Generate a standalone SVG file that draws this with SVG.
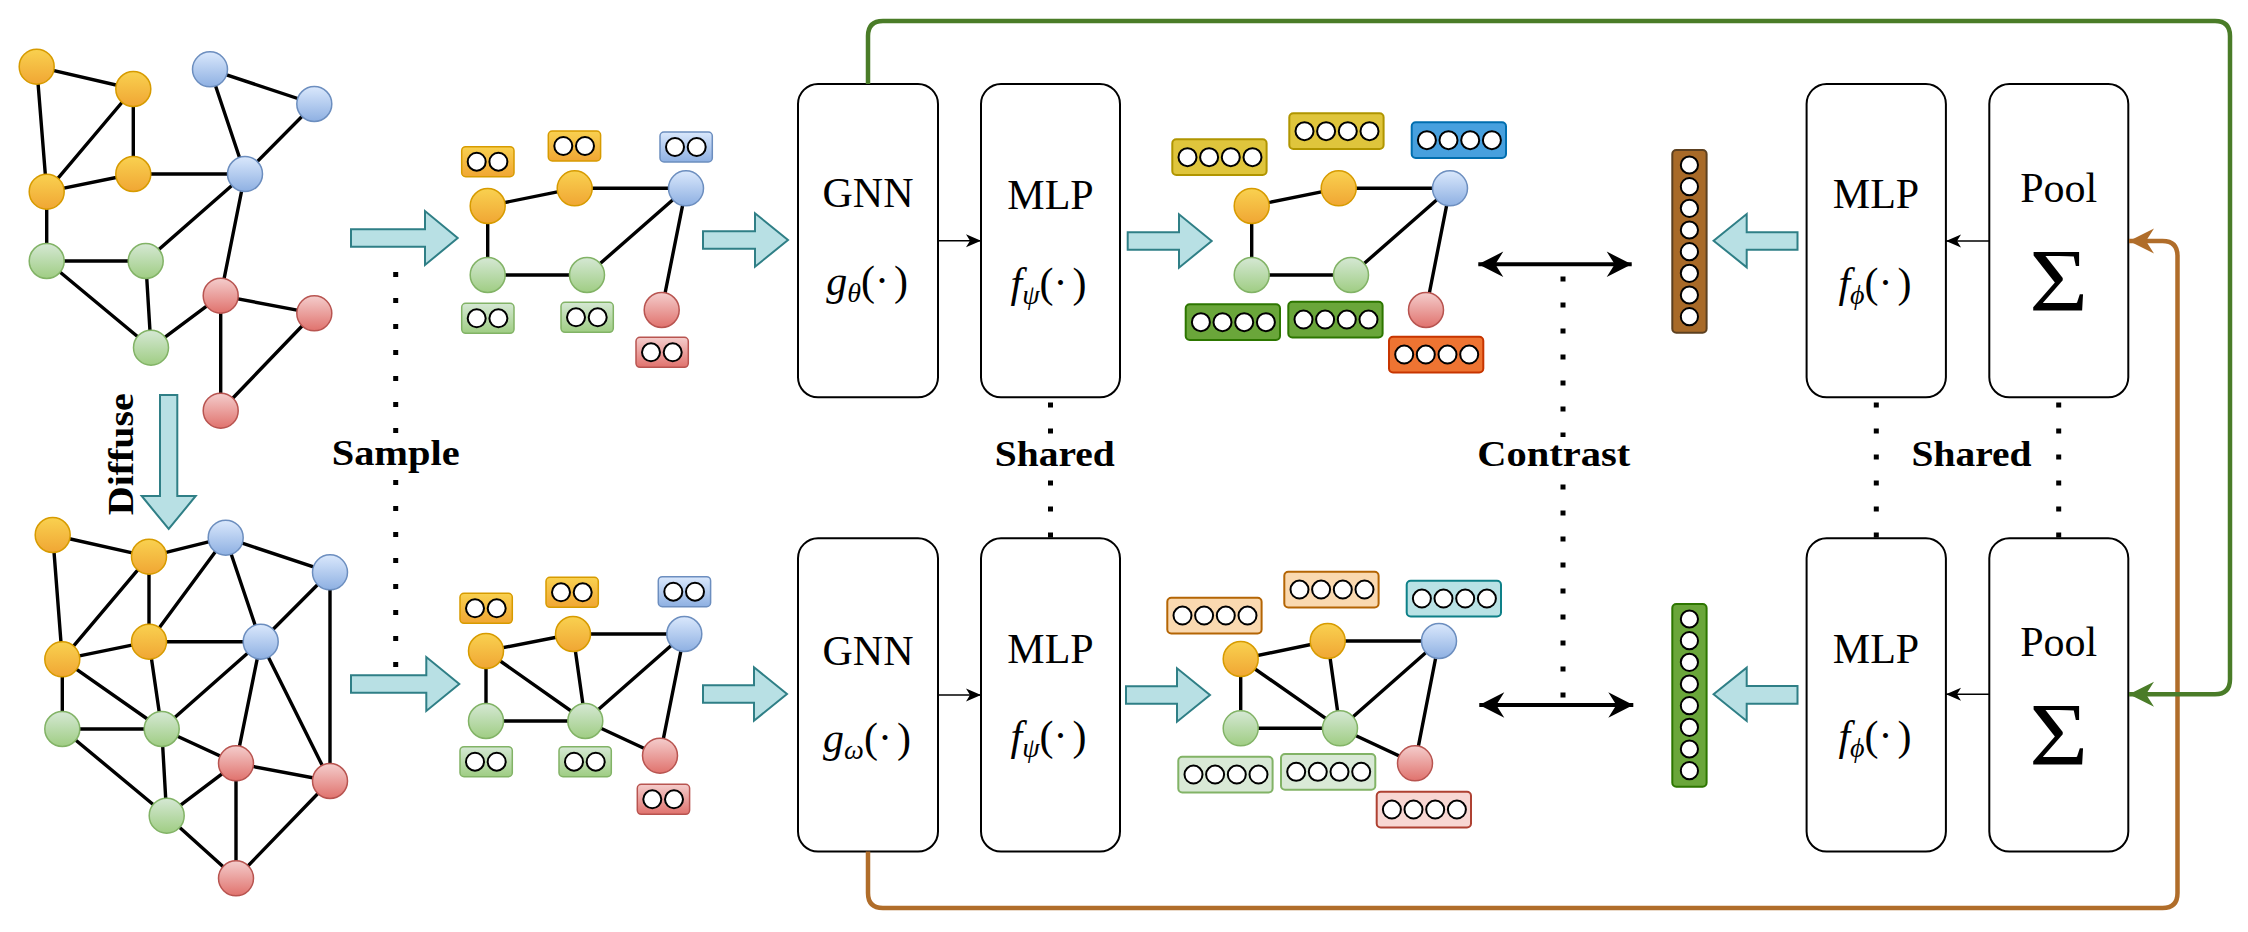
<svg xmlns="http://www.w3.org/2000/svg" xmlns:xlink="http://www.w3.org/1999/xlink" width="2248" height="932" viewBox="0 0 2248 932">
<defs>
<linearGradient id="gO" x1="0" y1="0" x2="0" y2="1"><stop offset="0" stop-color="#f9d150"/><stop offset="1" stop-color="#f0a634"/></linearGradient>
<linearGradient id="gB" x1="0" y1="0" x2="0" y2="1"><stop offset="0" stop-color="#dae8fc"/><stop offset="1" stop-color="#8eb0e2"/></linearGradient>
<linearGradient id="gG" x1="0" y1="0" x2="0" y2="1"><stop offset="0" stop-color="#d5e8d4"/><stop offset="1" stop-color="#9fcd83"/></linearGradient>
<linearGradient id="gR" x1="0" y1="0" x2="0" y2="1"><stop offset="0" stop-color="#f4cdcc"/><stop offset="1" stop-color="#e0726d"/></linearGradient>
<marker id="mGreen" viewBox="-26 -14 28 28" markerWidth="28" markerHeight="28" refX="0" refY="0" orient="auto" markerUnits="userSpaceOnUse"><path d="M0,0 L-25,-12.5 L-17,0 L-25,12.5 Z" fill="#4a7c28"/></marker>
<marker id="mBrown" viewBox="-26 -14 28 28" markerWidth="28" markerHeight="28" refX="0" refY="0" orient="auto" markerUnits="userSpaceOnUse"><path d="M0,0 L-25,-12.5 L-17,0 L-25,12.5 Z" fill="#b06d2a"/></marker>
<marker id="mBig" viewBox="-26 -14 28 28" markerWidth="28" markerHeight="28" refX="0" refY="0" orient="auto-start-reverse" markerUnits="userSpaceOnUse"><path d="M0,0 L-25,-12.7 L-17,0 L-25,12.7 Z" fill="#000"/></marker>
<marker id="mSmall" viewBox="-16 -8 17 16" markerWidth="17" markerHeight="16" refX="0" refY="0" orient="auto" markerUnits="userSpaceOnUse"><path d="M0,0 L-15,-6.5 L-11,0 L-15,6.5 Z" fill="#000"/></marker>
<g id="c2"><circle cx="15" cy="0" r="9" fill="#fff" stroke="#000" stroke-width="2"/><circle cx="36.7" cy="0" r="9" fill="#fff" stroke="#000" stroke-width="2"/></g>
<g id="c4"><circle cx="15.2" cy="0" r="9" fill="#fff" stroke="#000" stroke-width="2"/><circle cx="36.8" cy="0" r="9" fill="#fff" stroke="#000" stroke-width="2"/><circle cx="58.5" cy="0" r="9" fill="#fff" stroke="#000" stroke-width="2"/><circle cx="80.2" cy="0" r="9" fill="#fff" stroke="#000" stroke-width="2"/></g>
<g id="c8"><circle cx="0" cy="0" r="8.6" fill="#fff" stroke="#000" stroke-width="2"/><circle cx="0" cy="21.67" r="8.6" fill="#fff" stroke="#000" stroke-width="2"/><circle cx="0" cy="43.33" r="8.6" fill="#fff" stroke="#000" stroke-width="2"/><circle cx="0" cy="65" r="8.6" fill="#fff" stroke="#000" stroke-width="2"/><circle cx="0" cy="86.67" r="8.6" fill="#fff" stroke="#000" stroke-width="2"/><circle cx="0" cy="108.33" r="8.6" fill="#fff" stroke="#000" stroke-width="2"/><circle cx="0" cy="130" r="8.6" fill="#fff" stroke="#000" stroke-width="2"/><circle cx="0" cy="151.67" r="8.6" fill="#fff" stroke="#000" stroke-width="2"/></g>
</defs>
<style>
.e{stroke:#000;stroke-width:3.4;fill:none}
.nO{fill:url(#gO);stroke:#d79b00;stroke-width:1.5}
.nB{fill:url(#gB);stroke:#6c8ebf;stroke-width:1.5}
.nG{fill:url(#gG);stroke:#82b366;stroke-width:1.5}
.nR{fill:url(#gR);stroke:#b85450;stroke-width:1.5}
.fO{fill:url(#gO);stroke:#d79b00;stroke-width:1.5}
.fB{fill:url(#gB);stroke:#6c8ebf;stroke-width:1.5}
.fG{fill:url(#gG);stroke:#82b366;stroke-width:1.5}
.fR{fill:url(#gR);stroke:#b85450;stroke-width:1.5}
.kY{fill:#dfc53c;stroke:#b09500;stroke-width:2}
.kB{fill:#47a0de;stroke:#006eaf;stroke-width:2}
.kG{fill:#6aa63a;stroke:#2d7600;stroke-width:2}
.kO{fill:#ee7432;stroke:#c73500;stroke-width:2}
.lO{fill:#fad9b0;stroke:#b46504;stroke-width:2}
.lC{fill:#b9e2e5;stroke:#0e8088;stroke-width:2}
.lG{fill:#d9e9d6;stroke:#82b366;stroke-width:2}
.lR{fill:#f8d7d3;stroke:#ae4132;stroke-width:2}
.box{fill:#fff;stroke:#000;stroke-width:2}
.cy{fill:#b8e0e4;stroke:#2f7f86;stroke-width:2}
.lbl{font-family:"Liberation Serif",serif;font-weight:bold;font-size:36px;text-anchor:middle;fill:#000}
.t{font-family:"Liberation Serif",serif;font-size:42px;text-anchor:middle;fill:#000}
.it{font-style:italic}
.sub{font-style:italic;font-size:28px}
.sig{font-family:"Liberation Serif",serif;font-size:88px;text-anchor:middle;fill:#000}
.dot{stroke:#000;stroke-width:5;stroke-dasharray:5 21;fill:none}
</style>
<rect x="0" y="0" width="2248" height="932" fill="#fff"/>

<g id="graph-original">
<path class="e" d="M36.7,66.7L133.3,89 M36.7,66.7L46.7,191.7 M133.3,89L46.7,191.7 M133.3,89L133.3,174 M46.7,191.7L133.3,174 M133.3,174L245,174 M210,69.3L245,174 M210,69.3L314.3,104 M314.3,104L245,174 M46.7,191.7L46.7,261 M46.7,261L145.7,261 M145.7,261L245,174 M46.7,261L151,347.7 M145.7,261L151,347.7 M151,347.7L220.7,295.7 M245,174L220.7,295.7 M220.7,295.7L314.3,313.3 M220.7,295.7L220.7,410.7 M314.3,313.3L220.7,410.7"/>
<circle class="nO" cx="36.7" cy="66.7" r="17.5"/><circle class="nO" cx="133.3" cy="89" r="17.5"/><circle class="nO" cx="46.7" cy="191.7" r="17.5"/><circle class="nO" cx="133.3" cy="174" r="17.5"/>
<circle class="nB" cx="210" cy="69.3" r="17.5"/><circle class="nB" cx="314.3" cy="104" r="17.5"/><circle class="nB" cx="245" cy="174" r="17.5"/>
<circle class="nG" cx="46.7" cy="261" r="17.5"/><circle class="nG" cx="145.7" cy="261" r="17.5"/><circle class="nG" cx="151" cy="347.7" r="17.5"/>
<circle class="nR" cx="220.7" cy="295.7" r="17.5"/><circle class="nR" cx="314.3" cy="313.3" r="17.5"/><circle class="nR" cx="220.7" cy="410.7" r="17.5"/>
</g>

<g id="graph-diffused">
<path class="e" d="M52.7,535L149,556.7 M52.7,535L62.3,659.3 M149,556.7L225.7,537.7 M149,556.7L62.3,659.3 M149,556.7L149,641.7 M225.7,537.7L330,572.3 M225.7,537.7L149,641.7 M225.7,537.7L260.7,641.7 M330,572.3L260.7,641.7 M330,572.3L330,781 M62.3,659.3L149,641.7 M149,641.7L260.7,641.7 M62.3,659.3L62.3,729 M62.3,659.3L161.7,729 M149,641.7L161.7,729 M260.7,641.7L161.7,729 M260.7,641.7L236,763.3 M260.7,641.7L330,781 M62.3,729L161.7,729 M62.3,729L166.7,815.7 M161.7,729L166.7,815.7 M161.7,729L236,763.3 M236,763.3L330,781 M166.7,815.7L236,763.3 M236,763.3L236,878.3 M166.7,815.7L236,878.3 M330,781L236,878.3"/>
<circle class="nO" cx="52.7" cy="535" r="17.5"/><circle class="nO" cx="149" cy="556.7" r="17.5"/><circle class="nO" cx="62.3" cy="659.3" r="17.5"/><circle class="nO" cx="149" cy="641.7" r="17.5"/>
<circle class="nB" cx="225.7" cy="537.7" r="17.5"/><circle class="nB" cx="330" cy="572.3" r="17.5"/><circle class="nB" cx="260.7" cy="641.7" r="17.5"/>
<circle class="nG" cx="62.3" cy="729" r="17.5"/><circle class="nG" cx="161.7" cy="729" r="17.5"/><circle class="nG" cx="166.7" cy="815.7" r="17.5"/>
<circle class="nR" cx="236" cy="763.3" r="17.5"/><circle class="nR" cx="330" cy="781" r="17.5"/><circle class="nR" cx="236" cy="878.3" r="17.5"/>
</g>

<g id="graph-sample-top">
<path class="e" d="M487.7,206L574.7,188.3 M574.7,188.3L686,188.3 M487.7,206L487.7,275 M487.7,275L587,275 M587,275L686,188.3 M686,188.3L661.7,310"/>
<circle class="nO" cx="487.7" cy="206" r="17.5"/><circle class="nO" cx="574.7" cy="188.3" r="17.5"/><circle class="nB" cx="686" cy="188.3" r="17.5"/>
<circle class="nG" cx="487.7" cy="275" r="17.5"/><circle class="nG" cx="587" cy="275" r="17.5"/><circle class="nR" cx="661.7" cy="310" r="17.5"/>
<rect class="fO" x="461.7" y="146.7" width="52.3" height="30" rx="4"/><use href="#c2" x="461.7" y="161.7"/>
<rect class="fO" x="548.3" y="131" width="52.3" height="30" rx="4"/><use href="#c2" x="548.3" y="146"/>
<rect class="fB" x="660" y="132" width="52.3" height="30" rx="4"/><use href="#c2" x="660" y="147"/>
<rect class="fG" x="461.7" y="303.3" width="52.3" height="30" rx="4"/><use href="#c2" x="461.7" y="318.3"/>
<rect class="fG" x="561" y="302.3" width="52.3" height="30" rx="4"/><use href="#c2" x="561" y="317.3"/>
<rect class="fR" x="636" y="337.3" width="52.3" height="30" rx="4"/><use href="#c2" x="636" y="352.3"/>
</g>

<g id="graph-sample-bottom">
<path class="e" d="M486,651L573,634 M573,634L684.3,634 M486,651L486,721 M486,651L585.3,721 M573,634L585.3,721 M486,721L585.3,721 M585.3,721L684.3,634 M585.3,721L660,755.7 M684.3,634L660,755.7"/>
<circle class="nO" cx="486" cy="651" r="17.5"/><circle class="nO" cx="573" cy="634" r="17.5"/><circle class="nB" cx="684.3" cy="634" r="17.5"/>
<circle class="nG" cx="486" cy="721" r="17.5"/><circle class="nG" cx="585.3" cy="721" r="17.5"/><circle class="nR" cx="660" cy="755.7" r="17.5"/>
<rect class="fO" x="460" y="593.3" width="52.3" height="30" rx="4"/><use href="#c2" x="460" y="608.3"/>
<rect class="fO" x="546" y="577.3" width="52.3" height="30" rx="4"/><use href="#c2" x="546" y="592.3"/>
<rect class="fB" x="658.3" y="576.7" width="52.3" height="30" rx="4"/><use href="#c2" x="658.3" y="591.7"/>
<rect class="fG" x="460" y="746.7" width="52.3" height="30" rx="4"/><use href="#c2" x="460" y="761.7"/>
<rect class="fG" x="559" y="746.7" width="52.3" height="30" rx="4"/><use href="#c2" x="559" y="761.7"/>
<rect class="fR" x="637.3" y="784.3" width="52.3" height="30" rx="4"/><use href="#c2" x="637.3" y="799.3"/>
</g>

<g id="graph-embed-top">
<path class="e" d="M1251.7,206L1338.7,188.3 M1338.7,188.3L1450,188.3 M1251.7,206L1251.7,275 M1251.7,275L1351,275 M1351,275L1450,188.3 M1450,188.3L1426,310"/>
<circle class="nO" cx="1251.7" cy="206" r="17.5"/><circle class="nO" cx="1338.7" cy="188.3" r="17.5"/><circle class="nB" cx="1450" cy="188.3" r="17.5"/>
<circle class="nG" cx="1251.7" cy="275" r="17.5"/><circle class="nG" cx="1351" cy="275" r="17.5"/><circle class="nR" cx="1426" cy="310" r="17.5"/>
<rect class="kY" x="1172.3" y="139.3" width="94.3" height="35.7" rx="4"/><use href="#c4" x="1172.3" y="157.15"/>
<rect class="kY" x="1289.3" y="113.3" width="94.3" height="35.7" rx="4"/><use href="#c4" x="1289.3" y="131.15"/>
<rect class="kB" x="1411.7" y="122.3" width="94.3" height="35.7" rx="4"/><use href="#c4" x="1411.7" y="140.15"/>
<rect class="kG" x="1185.7" y="304.3" width="94.3" height="35.7" rx="4"/><use href="#c4" x="1185.7" y="322.15"/>
<rect class="kG" x="1288.3" y="301.7" width="94.3" height="35.7" rx="4"/><use href="#c4" x="1288.3" y="319.55"/>
<rect class="kO" x="1389" y="336.7" width="94.3" height="35.7" rx="4"/><use href="#c4" x="1389" y="354.55"/>
</g>

<g id="graph-embed-bottom">
<path class="e" d="M1240.7,659L1327.7,641 M1327.7,641L1439,641 M1240.7,659L1240.7,728.3 M1240.7,659L1340,728.3 M1327.7,641L1340,728.3 M1240.7,728.3L1340,728.3 M1340,728.3L1439,641 M1340,728.3L1415,763.3 M1439,641L1415,763.3"/>
<circle class="nO" cx="1240.7" cy="659" r="17.5"/><circle class="nO" cx="1327.7" cy="641" r="17.5"/><circle class="nB" cx="1439" cy="641" r="17.5"/>
<circle class="nG" cx="1240.7" cy="728.3" r="17.5"/><circle class="nG" cx="1340" cy="728.3" r="17.5"/><circle class="nR" cx="1415" cy="763.3" r="17.5"/>
<rect class="lO" x="1167.3" y="597.7" width="94.3" height="35.7" rx="4"/><use href="#c4" x="1167.3" y="615.55"/>
<rect class="lO" x="1284.3" y="571.7" width="94.3" height="35.7" rx="4"/><use href="#c4" x="1284.3" y="589.55"/>
<rect class="lC" x="1406.7" y="580.7" width="94.3" height="35.7" rx="4"/><use href="#c4" x="1406.7" y="598.55"/>
<rect class="lG" x="1178.3" y="756.7" width="94.3" height="35.7" rx="4"/><use href="#c4" x="1178.3" y="774.55"/>
<rect class="lG" x="1281" y="754" width="94.3" height="35.7" rx="4"/><use href="#c4" x="1281" y="771.85"/>
<rect class="lR" x="1376.7" y="791.7" width="94.3" height="35.7" rx="4"/><use href="#c4" x="1376.7" y="809.55"/>
</g>

<g id="vector-top">
<rect x="1672.3" y="150" width="34.3" height="182.7" rx="4" fill="#a86a28" stroke="#5c4020" stroke-width="2"/>
<use href="#c8" x="1689.4" y="165"/>
</g>
<g id="vector-bottom">
<rect x="1672.3" y="604" width="34.3" height="182.7" rx="4" fill="#6aa63a" stroke="#2d7600" stroke-width="2"/>
<use href="#c8" x="1689.4" y="619"/>
</g>

<g id="gnn-top">
<rect class="box" x="798" y="84" width="140" height="313.3" rx="20"/>
<text class="t" x="868" y="207">GNN</text>
<text class="t" x="867" y="295"><tspan class="it">g</tspan><tspan class="sub" dy="7">θ</tspan><tspan dy="-7">(·</tspan><tspan dx="5">)</tspan></text>
</g>
<g id="mlp-top">
<rect class="box" x="981" y="84" width="139" height="313.3" rx="20"/>
<text class="t" x="1050.5" y="209">MLP</text>
<text class="t" x="1048.5" y="297"><tspan class="it">f</tspan><tspan class="sub" dy="7">ψ</tspan><tspan dy="-7">(·</tspan><tspan dx="5">)</tspan></text>
</g>
<g id="gnn-bottom">
<rect class="box" x="798" y="538.3" width="140" height="313.3" rx="20"/>
<text class="t" x="868" y="665">GNN</text>
<text class="t" x="867" y="752"><tspan class="it">g</tspan><tspan class="sub" dy="7">ω</tspan><tspan dy="-7">(·</tspan><tspan dx="5">)</tspan></text>
</g>
<g id="mlp-bottom">
<rect class="box" x="981" y="538.3" width="139" height="313.3" rx="20"/>
<text class="t" x="1050.5" y="663">MLP</text>
<text class="t" x="1048.5" y="750"><tspan class="it">f</tspan><tspan class="sub" dy="7">ψ</tspan><tspan dy="-7">(·</tspan><tspan dx="5">)</tspan></text>
</g>
<g id="mlp-phi-top">
<rect class="box" x="1806.6" y="84" width="139.3" height="313.3" rx="20"/>
<text class="t" x="1876" y="208">MLP</text>
<text class="t" x="1875" y="297"><tspan class="it">f</tspan><tspan class="sub" dy="7">ϕ</tspan><tspan dy="-7">(·</tspan><tspan dx="5">)</tspan></text>
</g>
<g id="pool-top">
<rect class="box" x="1989.3" y="84" width="139" height="313.3" rx="20"/>
<text class="t" x="2058.7" y="202">Pool</text>
<text class="sig" transform="translate(2058.7,310) scale(1.15,1)" x="0" y="0">Σ</text>
</g>
<g id="mlp-phi-bottom">
<rect class="box" x="1806.6" y="538.3" width="139.3" height="313.3" rx="20"/>
<text class="t" x="1876" y="662.7">MLP</text>
<text class="t" x="1875" y="750"><tspan class="it">f</tspan><tspan class="sub" dy="7">ϕ</tspan><tspan dy="-7">(·</tspan><tspan dx="5">)</tspan></text>
</g>
<g id="pool-bottom">
<rect class="box" x="1989.3" y="538.3" width="139" height="313.3" rx="20"/>
<text class="t" x="2058.7" y="656">Pool</text>
<text class="sig" transform="translate(2058.7,764) scale(1.15,1)" x="0" y="0">Σ</text>
</g>

<g id="connectors">
<polygon class="cy" points="160,395 177.3,395 177.3,496 195.7,496 168.7,529 141.7,496 160,496"/>
<polygon class="cy" points="351,229.3 425,229.3 425,211 457.7,238 425,265 425,246.7 351,246.7"/>
<polygon class="cy" points="351,675.3 426.3,675.3 426.3,657 459.3,684 426.3,711 426.3,692.7 351,692.7"/>
<polygon class="cy" points="703,231.3 755,231.3 755,213.3 788,240 755,266.7 755,248.7 703,248.7"/>
<polygon class="cy" points="703,685.3 754,685.3 754,667.3 787,694 754,720.7 754,702.7 703,702.7"/>
<polygon class="cy" points="1127.7,232.3 1179,232.3 1179,214.3 1211.7,241 1179,267.7 1179,249.7 1127.7,249.7"/>
<polygon class="cy" points="1126,686.3 1177,686.3 1177,668.3 1210,695 1177,721.7 1177,703.7 1126,703.7"/>
<polygon class="cy" points="1797.5,232.3 1746.7,232.3 1746.7,214 1713.6,240.7 1746.7,267.3 1746.7,249.7 1797.5,249.7"/>
<polygon class="cy" points="1797.5,686 1746.7,686 1746.7,667.7 1713.6,694.3 1746.7,721 1746.7,703.7 1797.5,703.7"/>
<path d="M938,240.7H981" stroke="#000" stroke-width="1.6" fill="none" marker-end="url(#mSmall)"/>
<path d="M938,695H981" stroke="#000" stroke-width="1.6" fill="none" marker-end="url(#mSmall)"/>
<path d="M1989.3,241H1946" stroke="#000" stroke-width="1.6" fill="none" marker-end="url(#mSmall)"/>
<path d="M1989.3,694.3H1946" stroke="#000" stroke-width="1.6" fill="none" marker-end="url(#mSmall)"/>
<path d="M1478.3,264.3H1631.7" stroke="#000" stroke-width="4" fill="none" marker-start="url(#mBig)" marker-end="url(#mBig)"/>
<path d="M1479.3,705H1633.3" stroke="#000" stroke-width="4" fill="none" marker-start="url(#mBig)" marker-end="url(#mBig)"/>
<path d="M868,851.6V893Q868,908 883,908H2162.5Q2177.5,908 2177.5,893V256Q2177.5,241 2162.5,241H2129" stroke="#b06d2a" stroke-width="4.5" fill="none" marker-end="url(#mBrown)"/>
<path d="M868,84V36Q868,21 883,21H2215Q2230,21 2230,36V679.3Q2230,694.3 2215,694.3H2129" stroke="#4a7c28" stroke-width="4.5" fill="none" marker-end="url(#mGreen)"/>
<path class="dot" d="M395.7,272V668"/>
<path class="dot" d="M1050.5,402.5V538"/>
<path class="dot" d="M1563,276.5V698"/>
<path class="dot" d="M1876.3,402.5V538"/>
<path class="dot" d="M2058.7,402.5V538"/>
</g>

<g id="labels">
<rect x="330" y="437" width="132" height="38" fill="#fff"/>
<text class="lbl" x="395.7" y="465" textLength="128" lengthAdjust="spacingAndGlyphs">Sample</text>
<rect x="992" y="437" width="126" height="38" fill="#fff"/>
<text class="lbl" x="1054.8" y="466" textLength="120" lengthAdjust="spacingAndGlyphs">Shared</text>
<rect x="1475" y="437" width="158" height="38" fill="#fff"/>
<text class="lbl" x="1553.8" y="466" textLength="153" lengthAdjust="spacingAndGlyphs">Contrast</text>
<text class="lbl" x="1971.5" y="466" textLength="120" lengthAdjust="spacingAndGlyphs">Shared</text>
<text class="lbl" transform="translate(133.3,454.2) rotate(-90)" x="0" y="0" textLength="122" lengthAdjust="spacingAndGlyphs">Diffuse</text>
</g>
</svg>
